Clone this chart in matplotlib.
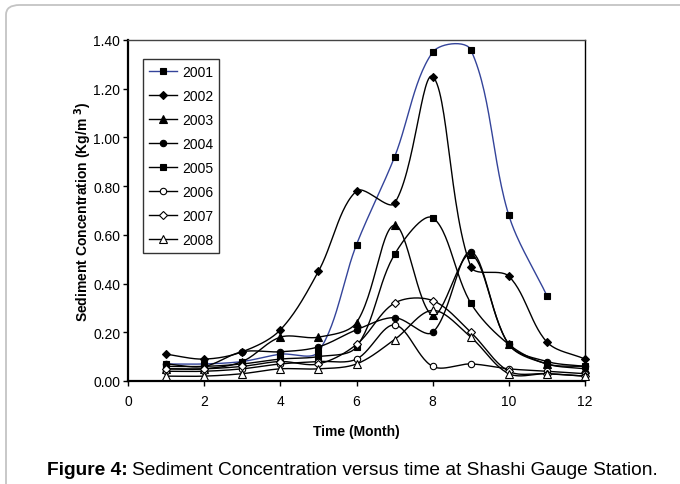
import numpy as np
import matplotlib
matplotlib.use("Agg")
import matplotlib.pyplot as plt
from matplotlib.patches import FancyBboxPatch

plt.rcParams['font.family'] = ['Liberation Sans', 'DejaVu Sans']

months_full = [1, 2, 3, 4, 5, 6, 7, 8, 9, 10, 11, 12]
months_2001 = [1, 2, 3, 4, 5, 6, 7, 8, 9, 10, 11]

y2001 = [0.07, 0.07, 0.08, 0.11, 0.12, 0.56, 0.92, 1.35, 1.36, 0.68, 0.35]
y2002 = [0.11, 0.09, 0.12, 0.21, 0.45, 0.78, 0.73, 1.25, 0.47, 0.43, 0.16, 0.09]
y2003 = [0.05, 0.05, 0.08, 0.18, 0.18, 0.24, 0.64, 0.27, 0.52, 0.15, 0.07, 0.05]
y2004 = [0.07, 0.06, 0.12, 0.12, 0.14, 0.21, 0.26, 0.20, 0.53, 0.15, 0.08, 0.06]
y2005 = [0.06, 0.06, 0.07, 0.09, 0.10, 0.14, 0.52, 0.67, 0.32, 0.15, 0.07, 0.06]
y2006 = [0.04, 0.04, 0.05, 0.07, 0.08, 0.09, 0.23, 0.06, 0.07, 0.05, 0.04, 0.03]
y2007 = [0.05, 0.05, 0.06, 0.08, 0.07, 0.15, 0.32, 0.33, 0.20, 0.04, 0.03, 0.02]
y2008 = [0.02, 0.02, 0.03, 0.05, 0.05, 0.07, 0.17, 0.29, 0.18, 0.03, 0.03, 0.02]

labels = ['2001', '2002', '2003', '2004', '2005', '2006', '2007', '2008']
xticks = [0, 2, 4, 6, 8, 10, 12]
yticks = [0.0, 0.2, 0.4, 0.6, 0.8, 1.0, 1.2, 1.4]


def smooth(ax, x, y, n=30):
    """Excel-like smoothed line: Bezier segments in display space with
    chord-length scaled tangents; returned in data coordinates."""
    pts = np.column_stack([np.asarray(x, float), np.asarray(y, float)])
    P = ax.transData.transform(pts)
    P = np.vstack([P[0], P, P[-1]])
    out = []
    t = np.linspace(0, 1, n)[:, None]
    for i in range(1, len(P) - 2):
        p0, p1, p2, p3 = P[i - 1], P[i], P[i + 1], P[i + 2]
        d01 = np.hypot(*(p1 - p0))
        d12 = np.hypot(*(p2 - p1))
        d23 = np.hypot(*(p3 - p2))
        f1 = d12 / (d01 + d12) if d01 + d12 > 0 else 0.5
        f2 = d12 / (d12 + d23) if d12 + d23 > 0 else 0.5
        b1 = p1 + (p2 - p0) * f1 / 3.0
        b2 = p2 - (p3 - p1) * f2 / 3.0
        seg = ((1 - t) ** 3) * p1 + 3 * ((1 - t) ** 2) * t * b1 \
            + 3 * (1 - t) * t ** 2 * b2 + t ** 3 * p2
        out.append(seg if i == 1 else seg[1:])
    s = ax.transData.inverted().transform(np.vstack(out))
    return s[:, 0], s[:, 1]


fig = plt.figure(figsize=(6.8, 4.85), dpi=100)

# outer frame
frame = FancyBboxPatch((6 / 680, -0.2), 1.2, 1.2 - 6 / 485,
                       boxstyle="round,pad=0,rounding_size=0.02",
                       transform=fig.transFigure, fill=False,
                       edgecolor='#c4c4c4', linewidth=1.3, clip_on=False)
fig.patches.append(frame)

ax = fig.add_axes([128 / 680, 1 - 382 / 485, 457 / 680, 341 / 485])
ax.set_xlim(0, 12)
ax.set_ylim(0, 1.4)

series = [
    (months_2001, y2001, 's', '#34449a', 'black', 4.5),
    (months_full, y2002, 'D', 'black', 'black', 4.2),
    (months_full, y2003, '^', 'black', 'black', 5.5),
    (months_full, y2004, 'o', 'black', 'black', 4.6),
    (months_full, y2005, 's', 'black', 'black', 4.5),
    (months_full, y2006, 'o', 'black', 'white', 4.6),
    (months_full, y2007, 'D', 'black', 'white', 4.2),
    (months_full, y2008, '^', 'black', 'white', 5.5),
]

handles = []
for (xs, ys, mk, lc, fc, ms), lab in zip(series, labels):
    sx, sy = smooth(ax, xs, ys)
    ax.plot(sx, sy, color=lc, lw=1.0, zorder=2)
    ax.plot(xs, ys, ls='none', marker=mk, ms=ms, mfc=fc, mec='black',
            mew=0.8, zorder=3, clip_on=False)
    h, = ax.plot([], [], color=lc, lw=1.0, marker=mk, ms=ms, mfc=fc,
                 mec='black', mew=0.8, label=lab)
    handles.append(h)

ax.set_xlim(0, 12)
ax.set_ylim(0, 1.4)
ax.set_xticks(xticks)
ax.set_yticks(yticks)
ax.set_yticklabels(['%.2f' % v for v in yticks])
ax.tick_params(axis='both', direction='out', length=3.5, width=1,
               labelsize=10, colors='black')
ax.tick_params(axis='x', pad=6)
ax.tick_params(axis='y', pad=2)
for s in ['left', 'bottom']:
    ax.spines[s].set_linewidth(1.6)
    ax.spines[s].set_color('black')
ax.spines['top'].set_color('#444444')
ax.spines['top'].set_linewidth(1.0)
ax.spines['right'].set_color('black')
ax.spines['right'].set_linewidth(1.0)

ax.set_ylabel('Sediment Concentration (Kg/m $^{\\mathbf{3}}$)', fontsize=10,
              fontweight='bold')
ax.yaxis.set_label_coords((83 - 128) / 457, 0.5)
ax.set_xlabel('Time (Month)', fontsize=10, fontweight='bold')
ax.xaxis.set_label_coords(0.5, -(432 - 382) / 341)
ax.xaxis.label.set_va('center')
ax.yaxis.label.set_va('center')

leg = ax.legend(handles=handles, loc='upper left',
                bbox_to_anchor=(143 / 680, 1 - 59.5 / 485),
                bbox_transform=fig.transFigure, fontsize=10,
                frameon=True, fancybox=False, edgecolor='black',
                handlelength=2.0, handletextpad=0.35, labelspacing=0.72,
                borderpad=0.45, borderaxespad=0)
leg.get_frame().set_linewidth(1.0)

fig.canvas.draw()
renderer = fig.canvas.get_renderer()
cap_y = 1 - 471 / 485
t1 = fig.text(47 / 680, cap_y, 'Figure 4:', fontsize=13.8,
              fontweight='bold', ha='left', va='center')
bb = t1.get_window_extent(renderer=renderer)
x_next = (bb.x1 + 4.5) / fig.bbox.width
fig.text(x_next, cap_y,
         'Sediment Concentration versus time at Shashi Gauge Station.',
         fontsize=13.8, ha='left', va='center')

fig.savefig('out.png', dpi=100)
